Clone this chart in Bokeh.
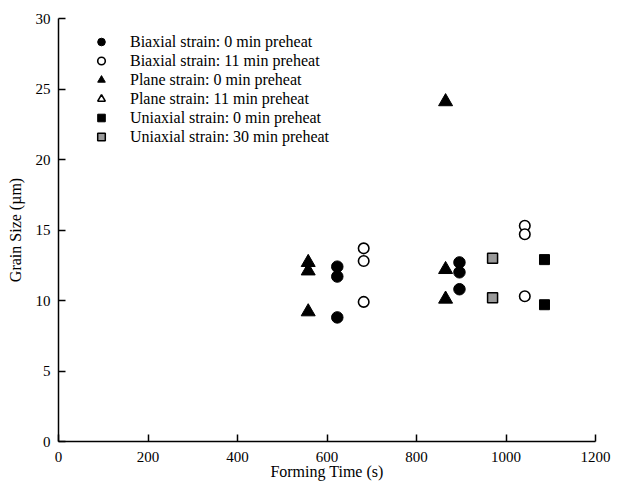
from bokeh.plotting import figure
from bokeh.models import Range1d, FixedTicker, Legend, LegendItem
from bokeh.embed import file_html
from bokeh.resources import INLINE

nan = float("nan")

# Data
biax0_x = [623, 623, 623, 896, 896, 896]
biax0_y = [12.4, 11.7, 8.8, 12.7, 12.0, 10.8]
biax11_x = [682, 682, 682, 1042, 1042, 1042]
biax11_y = [13.7, 12.8, 9.9, 15.3, 14.7, 10.3]
plane0_x = [558, 558, 558, 865, 865, 865]
plane0_y = [12.7, 12.1, 9.2, 24.1, 12.2, 10.1]
plane11_x = [nan]   # no visible points in the reference (legend only)
plane11_y = [nan]
uni0_x = [1086, 1086]
uni0_y = [12.9, 9.7]
uni30_x = [970, 970]
uni30_y = [13.0, 10.2]

labels = [
    "Biaxial strain: 0 min preheat",
    "Biaxial strain: 11 min preheat",
    "Plane strain: 0 min preheat",
    "Plane strain: 11 min preheat",
    "Uniaxial strain: 0 min preheat",
    "Uniaxial strain: 30 min preheat",
]
x_ticks = [0, 200, 400, 600, 800, 1000, 1200]
y_ticks = [0, 5, 10, 15, 20, 25, 30]

FONT = "Liberation Serif"

p = figure(width=612, height=484, output_backend="svg", toolbar_location=None,
           x_range=Range1d(0, 1200), y_range=Range1d(0, 30),
           min_border_left=58, min_border_top=18, min_border_right=17, min_border_bottom=43)
p.outline_line_color = None
p.grid.visible = False
p.background_fill_color = "white"
p.border_fill_color = "white"

for ax in (p.xaxis[0], p.yaxis[0]):
    ax.axis_line_width = 1.5
    ax.axis_line_color = "black"
    ax.major_tick_in = 7
    ax.major_tick_out = 0
    ax.major_tick_line_width = 1.5
    ax.minor_tick_line_color = None
    ax.major_label_text_font = FONT
    ax.major_label_text_font_size = "15px"
    ax.major_label_text_color = "black"
    ax.axis_label_text_font = FONT
    ax.axis_label_text_font_size = "16px"
    ax.axis_label_text_font_style = "normal"
    ax.axis_label_text_color = "black"

p.xaxis.ticker = FixedTicker(ticks=x_ticks)
p.yaxis.ticker = FixedTicker(ticks=y_ticks)
p.xaxis.axis_label = "Forming Time (s)"
p.yaxis.axis_label = "Grain Size (µm)"
p.xaxis.major_label_standoff = 10
p.yaxis.major_label_standoff = 8
p.xaxis.axis_label_standoff = -2
p.yaxis.axis_label_standoff = 9

r1 = p.scatter(biax0_x, biax0_y, marker="circle", size=11.5, fill_color="black", line_color="black")
r2 = p.scatter(biax11_x, biax11_y, marker="circle", size=10.5, fill_color="white", line_color="black", line_width=1.6)
r3 = p.scatter(plane0_x, plane0_y, marker="triangle", size=14, fill_color="black", line_color="black")
r4 = p.scatter(plane11_x, plane11_y, marker="triangle", size=13, fill_color="white", line_color="black", line_width=1.6)
r5 = p.scatter(uni0_x, uni0_y, marker="square", size=10, fill_color="black", line_color="black")
r6 = p.scatter(uni30_x, uni30_y, marker="square", size=10, fill_color="#9a9a9a", line_color="black", line_width=1.5)

items = [LegendItem(label=l, renderers=[r]) for l, r in zip(labels, [r1, r2, r3, r4, r5, r6])]
legend = Legend(items=items, location=(33, 295), margin=0, padding=0, spacing=0,
                glyph_width=20, glyph_height=19, label_height=19, label_standoff=19,
                border_line_color=None, background_fill_alpha=0,
                label_text_font=FONT, label_text_font_size="16px", label_text_color="black")
p.add_layout(legend, "center")

open("out.html", "w").write(file_html(p, INLINE))
